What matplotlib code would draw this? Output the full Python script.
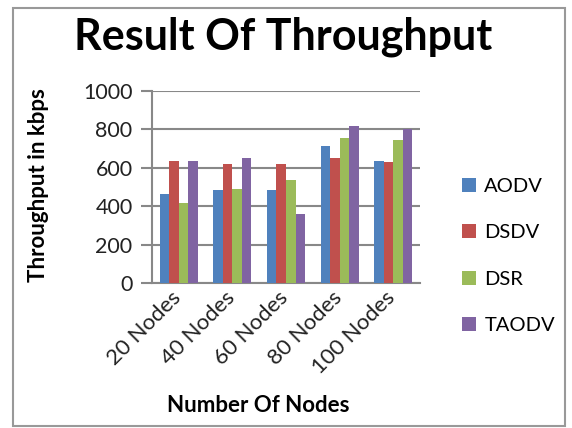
import matplotlib
matplotlib.use("Agg")
import matplotlib.pyplot as plt
import matplotlib.transforms as mtransforms
import numpy as np
from matplotlib.patches import Rectangle

categories = ["20 Nodes", "40 Nodes", "60 Nodes", "80 Nodes", "100 Nodes"]
series_names = ["AODV", "DSDV", "DSR", "TAODV"]
aodv = [461, 482, 482, 711, 638]
dsdv = [638, 618, 618, 649, 628]
dsr = [419, 492, 534, 753, 743]
taodv = [638, 649, 357, 816, 800]
series_values = [aodv, dsdv, dsr, taodv]
colors = ["#4F81BD", "#C0504D", "#9BBB59", "#8064A2"]
y_ticks = [0, 200, 400, 600, 800, 1000]

plt.rcParams['font.family'] = ['Lato', 'DejaVu Sans']

W, H = 572, 428
fig = plt.figure(figsize=(W / 100, H / 100), dpi=100)
fig.patch.set_facecolor("white")

ax = fig.add_axes([152 / W, 1 - 283 / H, (420 - 152) / W, (283 - 91) / H])

x = np.arange(len(categories))
bw = 0.178
for i, (name, vals, c) in enumerate(zip(series_names, series_values, colors)):
    ax.bar(x + (i - 1.5) * bw, vals, width=bw, color=c, label=name, zorder=3)

ax.set_xlim(-0.5, len(categories) - 0.5)
ax.set_ylim(0, 1000)
ax.set_yticks(y_ticks)
ax.set_yticklabels([str(v) for v in y_ticks], fontsize=15.5, color="#222222")
ax.yaxis.grid(True, color="#888888", linewidth=1.5, zorder=0)
ax.set_axisbelow(True)
for s in ["top", "right"]:
    ax.spines[s].set_visible(False)
ax.spines["left"].set_color("#888888")
ax.spines["left"].set_linewidth(1.5)
ax.spines["bottom"].set_color("#888888")
ax.spines["bottom"].set_linewidth(1.5)
ax.tick_params(axis="y", direction="out", length=8, width=1.5, color="#888888", pad=6)
ax.tick_params(axis="x", length=0, pad=3)
ax.set_xticks(x)
ax.set_xticklabels(categories, rotation=45, ha="right", va="top",
                   rotation_mode="anchor", fontsize=16, color="#222222")
offset = mtransforms.ScaledTranslation(-8 / 100, 0, fig.dpi_scale_trans)
for lbl in ax.get_xticklabels():
    lbl.set_transform(lbl.get_transform() + offset)

fig.text(38.5 / W, 1 - 185 / H, "Throughput in kbps", fontsize=16,
         fontweight="bold", rotation=90, ha="center", va="center")
fig.text(258 / W, 1 - 406 / H, "Number Of Nodes", fontsize=16,
         fontweight="bold", ha="center", va="center")
fig.text(283 / W, 1 - 37 / H, "Result Of Throughput", fontsize=31,
         fontweight="bold", ha="center", va="center")

handles, labels = ax.get_legend_handles_labels()
fig.legend(handles, labels, loc="center left", bbox_to_anchor=(444 / W, 1 - 256 / H),
           frameon=False, fontsize=14.5, handlelength=0.7, handleheight=0.7,
           handletextpad=0.4, labelspacing=1.45)

fig.patches.append(Rectangle((13 / W, 1 - 426 / H), (565 - 13) / W, (426 - 8) / H,
                             transform=fig.transFigure, fill=False,
                             edgecolor="#999999", linewidth=1.5))

fig.savefig("out.png", dpi=100)
